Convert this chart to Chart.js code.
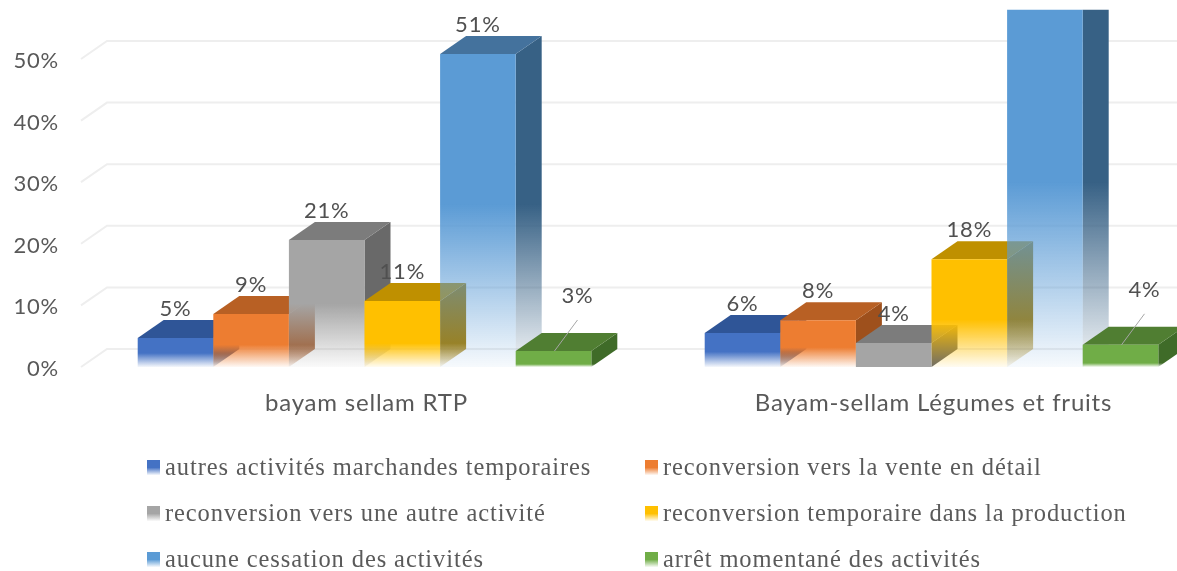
<!DOCTYPE html>
<html><head><meta charset="utf-8">
<script src="https://cdn.jsdelivr.net/npm/chart.js@4"></script>
<style>
html,body{margin:0;padding:0;background:#fff;width:1177px;height:571px;overflow:hidden}
canvas{display:block;filter:blur(0.7px)}
</style></head><body>
<canvas id="c" width="1300" height="571"></canvas>
<script>
const categories = ['bayam sellam RTP', 'Bayam-sellam Légumes et fruits'];
const seriesNames = [
  'autres activités marchandes temporaires',
  'reconversion vers la vente en détail',
  'reconversion vers une autre activité',
  'reconversion temporaire dans la production',
  'aucune cessation des activités',
  'arrêt momentané des activités'
];
const autresActivites = [4.7, 5.5];
const venteDetail = [8.6, 7.6];
const autreActivite = [20.6, 3.9];
const production = [10.7, 17.5];
const aucuneCessation = [50.8, 60];
const arretMomentane = [2.6, 3.6];
const seriesValues = [autresActivites, venteDetail, autreActivite, production, aucuneCessation, arretMomentane];
const yTicks = [0, 10, 20, 30, 40, 50];

const frontRGB = ['68,114,196', '237,125,49', '165,165,165', '255,192,0', '91,155,213', '112,173,71'];
const topRGB   = ['47,85,151', '184,96,36', '124,124,124', '191,144,0', '68,114,157', '80,126,50'];
const sideRGB  = ['38,70,125', '158,80,28', '105,105,105', '166,124,0', '55,97,133', '63,107,40'];
const fadePortion = [[.48,.45],[.42,.42],[.5,.02],[.36,.44],[.52,.5],[.18,.18]];
const hiddenLabels = [[], [], [], [], [1], []];
const leaderSeries = 5;

const DX = 26, DY = 18;
function grad(ctx, yTop, yBottom, rgb, fade) {
  const g = ctx.createLinearGradient(0, yTop, 0, yBottom);
  g.addColorStop(0, `rgba(${rgb},1)`);
  g.addColorStop(Math.max(0, 1 - fade), `rgba(${rgb},1)`);
  g.addColorStop(1, fade < .05 ? `rgba(${rgb},1)` : `rgba(${rgb},0.05)`);
  return g;
}

const depthPlugin = {
  id: 'depth',
  beforeDraw(chart) {
    chart.ctx.letterSpacing = '0.8px';
  },
  beforeDatasetsDraw(chart) {
    const {ctx, chartArea: a, scales: {y}} = chart;
    ctx.save();
    ctx.strokeStyle = '#eeeeee';
    ctx.lineWidth = 2;
    yTicks.forEach(v => {
      const p = y.getPixelForValue(v);
      ctx.beginPath();
      ctx.moveTo(a.left, p);
      ctx.lineTo(a.left + DX, p - DY);
      ctx.lineTo(a.right + DX, p - DY);
      ctx.stroke();
    });
    ctx.restore();
    // Painter's order: left-most series first, each series' depth faces then its own front
    seriesNames.forEach((_, s) => {
      const meta = chart.getDatasetMeta(s);
      ctx.save();
      ctx.beginPath();
      ctx.rect(0, a.top, chart.width, chart.height);
      ctx.clip();
      meta.data.forEach((bar, i) => {
        const l = bar.x - bar.width / 2, r = bar.x + bar.width / 2, t = bar.y, b = bar.base;
        ctx.fillStyle = grad(ctx, t, b, sideRGB[s], fadePortion[s][i]);
        ctx.beginPath();
        ctx.moveTo(r, t); ctx.lineTo(r + DX, t - DY); ctx.lineTo(r + DX, b - DY); ctx.lineTo(r, b);
        ctx.closePath(); ctx.fill();
        ctx.fillStyle = `rgb(${topRGB[s]})`;
        ctx.beginPath();
        ctx.moveTo(l, t); ctx.lineTo(l + DX, t - DY); ctx.lineTo(r + DX, t - DY); ctx.lineTo(r, t);
        ctx.closePath(); ctx.fill();
      });
      meta.controller.draw();
      ctx.restore();
    });
    return false;
  },
  afterDraw(chart) {
    const {ctx} = chart;
    ctx.save();
    // data labels
    ctx.font = '22px Lato';
    ctx.fillStyle = '#505050';
    ctx.textAlign = 'center';
    ctx.textBaseline = 'middle';
    seriesValues.forEach((vals, s) => {
      chart.getDatasetMeta(s).data.forEach((bar, i) => {
        if (hiddenLabels[s].includes(i)) return;
        const txt = Math.round(vals[i]) + '%';
        if (s === leaderSeries) {
          const lx = bar.x + 24, ly = bar.y - 55;
          ctx.fillText(txt, lx, ly);
          ctx.strokeStyle = '#a6a6a6';
          ctx.lineWidth = 1;
          ctx.beginPath();
          ctx.moveTo(lx, ly + 24);
          ctx.lineTo(bar.x + 1, bar.y);
          ctx.stroke();
        } else {
          ctx.fillText(txt, bar.x, bar.y - 29);
        }
      });
    });
    // legend
    ctx.textAlign = 'left';
    ctx.font = '24.5px "Liberation Serif"';
    ctx.letterSpacing = '0.9px';
    const colX = [147, 645], rowY = [469, 515, 561];
    seriesNames.forEach((name, s) => {
      const x = colX[s % 2], yy = rowY[Math.floor(s / 2)];
      ctx.fillStyle = grad(ctx, yy - 9, yy + 6, frontRGB[s], .5);
      ctx.fillRect(x, yy - 9, 13, 15);
      ctx.fillStyle = '#5a5a5a';
      ctx.fillText(name, x + 18, yy);
    });
    ctx.restore();
  }
};

new Chart(document.getElementById('c'), {
  type: 'bar',
  data: {
    labels: categories,
    datasets: seriesNames.map((label, s) => ({
      label,
      data: seriesValues[s],
      borderWidth: 0,
      backgroundColor(ctx) {
        const c = ctx.chart;
        if (!c.chartArea || ctx.dataIndex === undefined) return `rgb(${frontRGB[s]})`;
        const y = c.scales.y;
        return grad(c.ctx, y.getPixelForValue(seriesValues[s][ctx.dataIndex]), y.getPixelForValue(0), frontRGB[s], fadePortion[s][ctx.dataIndex]);
      }
    }))
  },
  options: {
    responsive: false,
    animation: false,
    layout: {padding: {top: 9.7, right: 85, left: 0, bottom: 0}},
    plugins: {legend: {display: false}, tooltip: {enabled: false}, title: {display: false}},
    scales: {
      x: {
        grid: {display: false},
        border: {display: false},
        ticks: {color: '#595959', font: {family: 'Lato', size: 24}, padding: 14, labelOffset: 2, maxRotation: 0},
        afterFit(s) { s.height = 204; s.paddingLeft = 0; s.paddingRight = 0; }
      },
      y: {
        min: 0, max: 58,
        grid: {display: false},
        border: {display: false},
        afterFit(s) { s.width = 81; s.paddingTop = 0; s.paddingBottom = 0; },
        ticks: {
          stepSize: 10, includeBounds: false, color: '#595959', padding: 14, labelOffset: 2,
          font: {family: 'Lato', size: 22},
          callback: v => v + '%'
        }
      }
    },
    datasets: {bar: {barPercentage: 1, categoryPercentage: 0.8}}
  },
  plugins: [depthPlugin]
});
</script>
</body></html>
